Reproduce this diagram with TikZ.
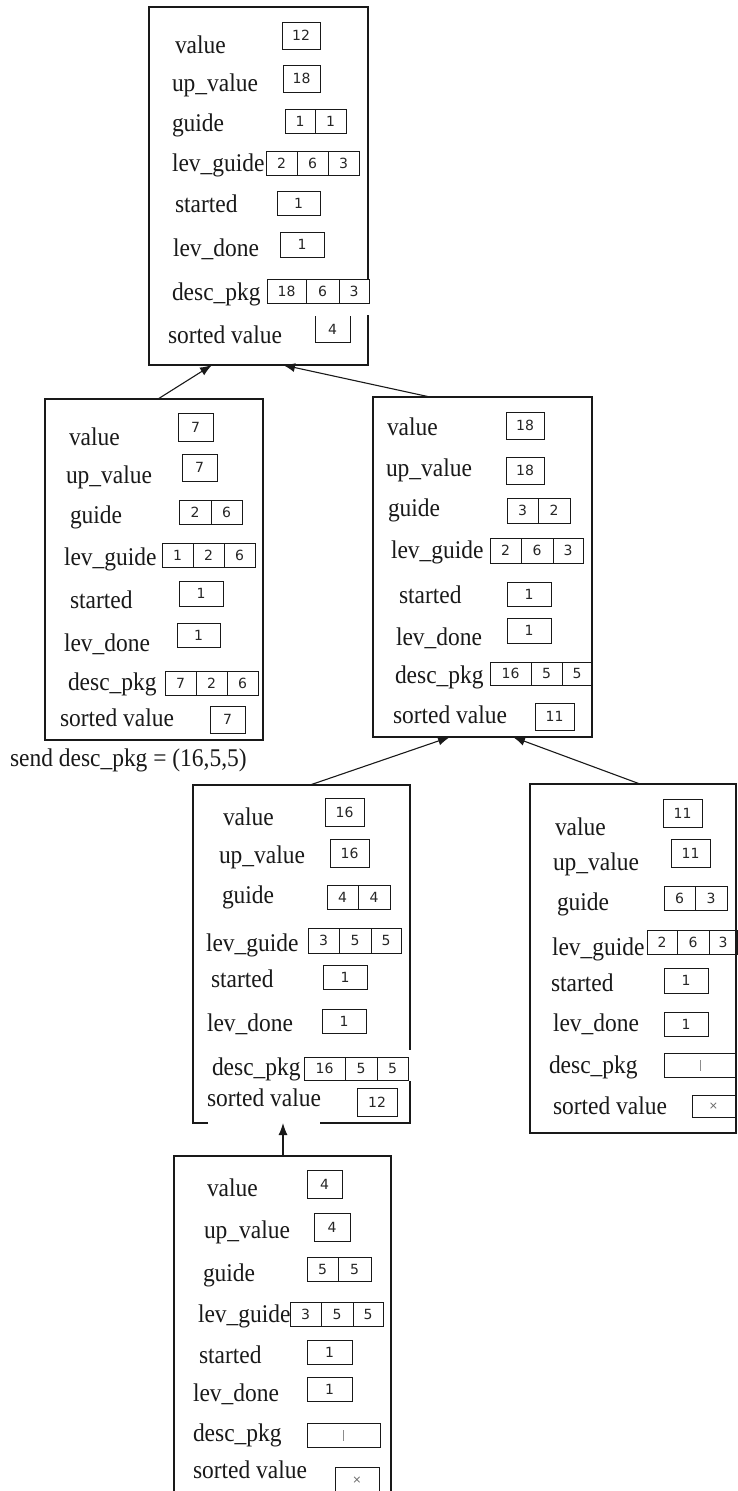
\documentclass[tikz,border=0pt]{standalone}
\usepackage{fontspec}
\setmainfont{Liberation Serif}
\newfontfamily\lblfamily[FakeStretch=0.92]{Liberation Serif}
\newfontfamily\digfamily{DejaVu Sans}
\usetikzlibrary{arrows.meta}
\tikzset{
  lbl/.style={anchor=mid west, yshift=-6pt, inner sep=0pt, outer sep=0pt, font=\lblfamily\fontsize{25.5}{28}\selectfont, text=black!90},
  cell/.style={draw=black!90, line width=0.9pt, anchor=north west, inner sep=0pt, outer sep=0pt, font=\digfamily\fontsize{14}{15}\selectfont, text=black!85},
  ocell/.style={cell, draw=none},
  frame/.style={anchor=north west, inner sep=0pt, outer sep=0pt, draw=none},
  fr/.style={line width=1.2pt, draw=black!90},
  arr/.style={line width=1.1pt, draw=black!90, -{Latex[length=12pt,width=9pt]}},
}
\newcommand\tickmark{\textcolor{black!45}{\rule[-5.5pt]{0.8pt}{11pt}}}
\newcommand\crossmark{{\fontsize{11}{12}\selectfont\textcolor{black!60}{×}}}
\begin{document}
\begin{tikzpicture}[x=1pt,y=-1pt]
\useasboundingbox (0,0) rectangle (738,1491);
\fill[white] (0,0) rectangle (738,1491);
\clip (0,0) rectangle (738,1491);

% ---------- box 1 ----------
\node[frame,minimum width=219pt,minimum height=358pt] (b1) at (149,7) {};
\draw[fr] (368,279) -- (368,7) -- (149,7) -- (149,365) -- (368,365) -- (368,315);
\node[lbl] (t-l1) at (175,45) {value};
\node[cell,minimum width=38pt,minimum height=27pt] (t-v) at (282,22) {12};
\node[lbl] (t-l2) at (172,83) {up\_value};
\node[cell,minimum width=37pt,minimum height=27pt] (t-u) at (283,65) {18};
\node[lbl] (t-l3) at (172,123) {guide};
\node[cell,minimum width=30pt,minimum height=24pt] (t-g1) at (285,109) {1};
\node[cell,minimum width=31pt,minimum height=24pt] (t-g2) at (t-g1.north east) {1};
\node[lbl] (t-l4) at (172,163) {lev\_guide};
\node[cell,minimum width=31pt,minimum height=24pt] (t-lg1) at (266,151) {2};
\node[cell,minimum width=31pt,minimum height=24pt] (t-lg2) at (t-lg1.north east) {6};
\node[cell,minimum width=31pt,minimum height=24pt] (t-lg3) at (t-lg2.north east) {3};
\node[lbl] (t-l5) at (175,204) {started};
\node[cell,minimum width=43pt,minimum height=24pt] (t-s) at (277,191) {1};
\node[lbl] (t-l6) at (173,248) {lev\_done};
\node[cell,minimum width=44pt,minimum height=25pt] (t-ld) at (280,232) {1};
\node[lbl] (t-l7) at (172,292) {desc\_pkg};
\node[cell,minimum width=39pt,minimum height=24pt] (t-d1) at (267,279) {18};
\node[cell,minimum width=33pt,minimum height=24pt] (t-d2) at (t-d1.north east) {6};
\node[cell,minimum width=30pt,minimum height=24pt] (t-d3) at (t-d2.north east) {3};
\node[lbl] (t-l8) at (168,335) {sorted value};
\node[ocell,minimum width=35pt,minimum height=26pt] (t-sv) at (315,316) {4};
\draw[draw=black!90,line width=0.9pt] (t-sv.north west) -- (t-sv.south west) -- (t-sv.south east) -- (t-sv.north east);

% ---------- box 2 ----------
\node[frame,minimum width=218pt,minimum height=341pt] (b2) at (45,399) {};
\draw[fr] (b2.north west) rectangle (b2.south east);
\node[lbl] (m-l1) at (69,437) {value};
\node[cell,minimum width=35pt,minimum height=28pt] (m-v) at (178,413) {7};
\node[lbl] (m-l2) at (66,475) {up\_value};
\node[cell,minimum width=35pt,minimum height=27pt] (m-u) at (182,454) {7};
\node[lbl] (m-l3) at (70,515) {guide};
\node[cell,minimum width=32pt,minimum height=24pt] (m-g1) at (179,500) {2};
\node[cell,minimum width=31pt,minimum height=24pt] (m-g2) at (m-g1.north east) {6};
\node[lbl] (m-l4) at (64,557) {lev\_guide};
\node[cell,minimum width=31pt,minimum height=24pt] (m-lg1) at (162,543) {1};
\node[cell,minimum width=31pt,minimum height=24pt] (m-lg2) at (m-lg1.north east) {2};
\node[cell,minimum width=31pt,minimum height=24pt] (m-lg3) at (m-lg2.north east) {6};
\node[lbl] (m-l5) at (70,600) {started};
\node[cell,minimum width=44pt,minimum height=25pt] (m-s) at (179,581) {1};
\node[lbl] (m-l6) at (64,643) {lev\_done};
\node[cell,minimum width=43pt,minimum height=24pt] (m-ld) at (177,623) {1};
\node[lbl] (m-l7) at (68,682) {desc\_pkg};
\node[cell,minimum width=31pt,minimum height=24pt] (m-d1) at (165,671) {7};
\node[cell,minimum width=31pt,minimum height=24pt] (m-d2) at (m-d1.north east) {2};
\node[cell,minimum width=31pt,minimum height=24pt] (m-d3) at (m-d2.north east) {6};
\node[lbl] (m-l8) at (60,718) {sorted value};
\node[cell,minimum width=35pt,minimum height=27pt] (m-sv) at (210,706) {7};
\node[lbl] (send) at (10,758) {send desc\_pkg = (16,5,5)};

% ---------- box 3 ----------
\node[frame,minimum width=219pt,minimum height=340pt] (b3) at (373,397) {};
\draw[fr] (b3.north west) rectangle (b3.south east);
\node[lbl] (r-l1) at (387,427) {value};
\node[cell,minimum width=38pt,minimum height=27pt] (r-v) at (506,412) {18};
\node[lbl] (r-l2) at (386,468) {up\_value};
\node[cell,minimum width=38pt,minimum height=27pt] (r-u) at (506,457) {18};
\node[lbl] (r-l3) at (388,508) {guide};
\node[cell,minimum width=31pt,minimum height=25pt] (r-g1) at (507,498) {3};
\node[cell,minimum width=32pt,minimum height=25pt] (r-g2) at (r-g1.north east) {2};
\node[lbl] (r-l4) at (391,550) {lev\_guide};
\node[cell,minimum width=31pt,minimum height=25pt] (r-lg1) at (490,538) {2};
\node[cell,minimum width=32pt,minimum height=25pt] (r-lg2) at (r-lg1.north east) {6};
\node[cell,minimum width=30pt,minimum height=25pt] (r-lg3) at (r-lg2.north east) {3};
\node[lbl] (r-l5) at (399,595) {started};
\node[cell,minimum width=44pt,minimum height=24pt] (r-s) at (507,582) {1};
\node[lbl] (r-l6) at (396,637) {lev\_done};
\node[cell,minimum width=44pt,minimum height=25pt] (r-ld) at (507,618) {1};
\node[lbl] (r-l7) at (395,675) {desc\_pkg};
\node[cell,minimum width=41pt,minimum height=23pt] (r-d1) at (490,662) {16};
\node[cell,minimum width=31pt,minimum height=23pt] (r-d2) at (r-d1.north east) {5};
\node[cell,minimum width=30pt,minimum height=23pt] (r-d3) at (r-d2.north east) {5};
\node[lbl] (r-l8) at (393,715) {sorted value};
\node[cell,minimum width=39pt,minimum height=27pt] (r-sv) at (535,703) {11};

% ---------- box 4 ----------
\node[frame,minimum width=217pt,minimum height=338pt] (b4) at (193,785) {};
\draw[fr] (208,1123) -- (193,1123) -- (193,785) -- (410,785) -- (410,1050);
\draw[fr] (410,1081) -- (410,1123) -- (320,1123);
\node[lbl] (c-l1) at (223,817) {value};
\node[cell,minimum width=39pt,minimum height=28pt] (c-v) at (325,798) {16};
\node[lbl] (c-l2) at (219,855) {up\_value};
\node[cell,minimum width=39pt,minimum height=28pt] (c-u) at (330,839) {16};
\node[lbl] (c-l3) at (222,895) {guide};
\node[cell,minimum width=31pt,minimum height=24pt] (c-g1) at (327,885) {4};
\node[cell,minimum width=32pt,minimum height=24pt] (c-g2) at (c-g1.north east) {4};
\node[lbl] (c-l4) at (206,943) {lev\_guide};
\node[cell,minimum width=31pt,minimum height=25pt] (c-lg1) at (308,928) {3};
\node[cell,minimum width=32pt,minimum height=25pt] (c-lg2) at (c-lg1.north east) {5};
\node[cell,minimum width=30pt,minimum height=25pt] (c-lg3) at (c-lg2.north east) {5};
\node[lbl] (c-l5) at (211,979) {started};
\node[cell,minimum width=44pt,minimum height=24pt] (c-s) at (323,965) {1};
\node[lbl] (c-l6) at (207,1023) {lev\_done};
\node[cell,minimum width=44pt,minimum height=24pt] (c-ld) at (322,1009) {1};
\node[lbl] (c-l7) at (212,1067) {desc\_pkg};
\node[cell,minimum width=41pt,minimum height=23pt] (c-d1) at (304,1057) {16};
\node[cell,minimum width=32pt,minimum height=23pt] (c-d2) at (c-d1.north east) {5};
\node[cell,minimum width=31pt,minimum height=23pt] (c-d3) at (c-d2.north east) {5};
\node[lbl] (c-l8) at (207,1098) {sorted value};
\node[cell,minimum width=40pt,minimum height=28pt] (c-sv) at (357,1088) {12};

% ---------- box 5 ----------
\node[frame,minimum width=206pt,minimum height=349pt] (b5) at (530,784) {};
\draw[fr] (b5.north west) rectangle (b5.south east);
\node[lbl] (e-l1) at (555,827) {value};
\node[cell,minimum width=39pt,minimum height=28pt] (e-v) at (663,799) {11};
\node[lbl] (e-l2) at (553,862) {up\_value};
\node[cell,minimum width=39pt,minimum height=28pt] (e-u) at (671,839) {11};
\node[lbl] (e-l3) at (557,902) {guide};
\node[cell,minimum width=31pt,minimum height=24pt] (e-g1) at (664,886) {6};
\node[cell,minimum width=32pt,minimum height=24pt] (e-g2) at (e-g1.north east) {3};
\node[lbl] (e-l4) at (552,947) {lev\_guide};
\node[cell,minimum width=30pt,minimum height=24pt] (e-lg1) at (647,930) {2};
\node[cell,minimum width=32pt,minimum height=24pt] (e-lg2) at (e-lg1.north east) {6};
\node[cell,minimum width=28pt,minimum height=24pt] (e-lg3) at (e-lg2.north east) {3};
\node[lbl] (e-l5) at (551,983) {started};
\node[cell,minimum width=44pt,minimum height=25pt] (e-s) at (664,968) {1};
\node[lbl] (e-l6) at (553,1023) {lev\_done};
\node[cell,minimum width=44pt,minimum height=24pt] (e-ld) at (664,1012) {1};
\node[lbl] (e-l7) at (549,1065) {desc\_pkg};
\node[cell,minimum width=72pt,minimum height=24pt] (e-d) at (664,1053) {\tickmark};
\node[lbl] (e-l8) at (553,1106) {sorted value};
\node[cell,minimum width=43pt,minimum height=22pt] (e-sv) at (692,1095) {\crossmark};

% ---------- box 6 ----------
\node[frame,minimum width=217pt,minimum height=344pt] (b6) at (174,1156) {};
\draw[fr] (174,1500) -- (174,1156) -- (391,1156) -- (391,1500);
\node[lbl] (f-l1) at (207,1188) {value};
\node[cell,minimum width=35pt,minimum height=28pt] (f-v) at (307,1170) {4};
\node[lbl] (f-l2) at (204,1230) {up\_value};
\node[cell,minimum width=36pt,minimum height=28pt] (f-u) at (314,1213) {4};
\node[lbl] (f-l3) at (203,1273) {guide};
\node[cell,minimum width=31pt,minimum height=24pt] (f-g1) at (307,1257) {5};
\node[cell,minimum width=33pt,minimum height=24pt] (f-g2) at (f-g1.north east) {5};
\node[lbl] (f-l4) at (198,1314) {lev\_guide};
\node[cell,minimum width=31pt,minimum height=24pt] (f-lg1) at (290,1302) {3};
\node[cell,minimum width=32pt,minimum height=24pt] (f-lg2) at (f-lg1.north east) {5};
\node[cell,minimum width=30pt,minimum height=24pt] (f-lg3) at (f-lg2.north east) {5};
\node[lbl] (f-l5) at (199,1355) {started};
\node[cell,minimum width=45pt,minimum height=24pt] (f-s) at (307,1340) {1};
\node[lbl] (f-l6) at (193,1393) {lev\_done};
\node[cell,minimum width=45pt,minimum height=24pt] (f-ld) at (307,1377) {1};
\node[lbl] (f-l7) at (193,1433) {desc\_pkg};
\node[cell,minimum width=73pt,minimum height=24pt] (f-d) at (307,1423) {\tickmark};
\node[lbl] (f-l8) at (193,1470) {sorted value};
\node[cell,minimum width=44pt,minimum height=30pt] (f-sv) at (335,1467) {\raisebox{4pt}{\crossmark}};

% ---------- arrows ----------
\draw[arr] ([xshift=113pt]b2.north west) -- ([xshift=63pt]b1.south west);
\draw[arr] ([xshift=57pt]b3.north west) -- ([xshift=134pt]b1.south west);
\draw[arr] ([xshift=117pt]b4.north west) -- ([xshift=77pt]b3.south west);
\draw[arr] ([xshift=110pt]b5.north west) -- ([xshift=140pt]b3.south west);
\draw[arr] ([xshift=109pt]b6.north west) -- ([xshift=90pt]b4.south west);
\end{tikzpicture}
\end{document}
